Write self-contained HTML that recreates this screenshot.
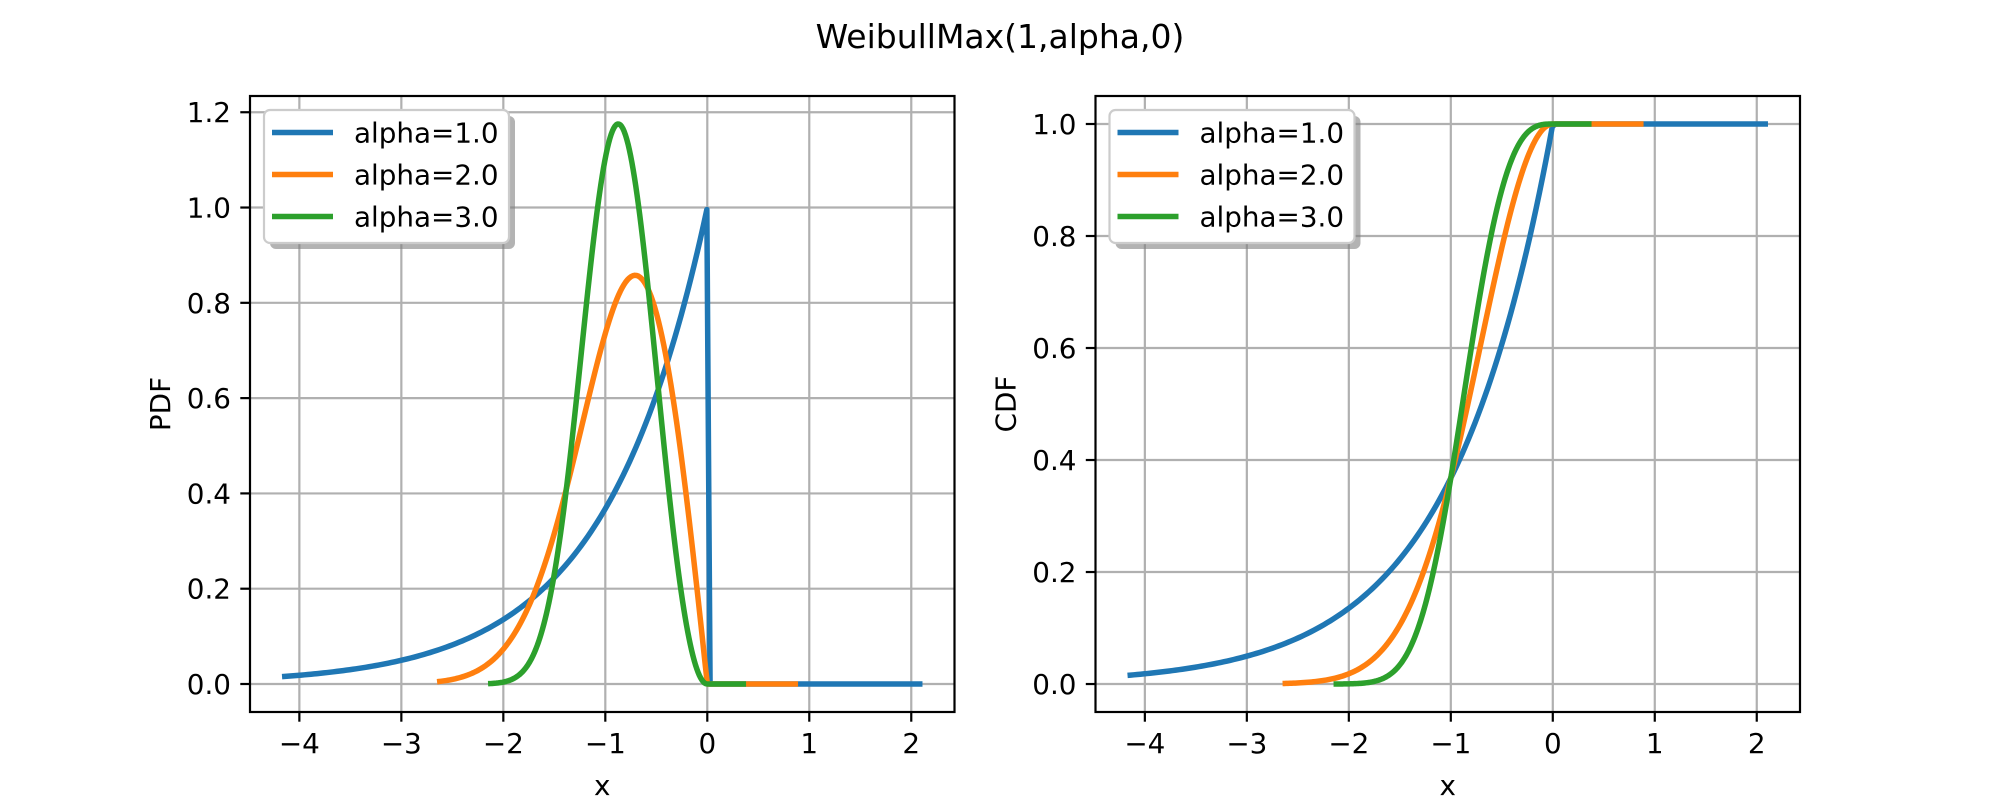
<!DOCTYPE html>
<html><head><meta charset="utf-8"><style>
html,body{margin:0;padding:0;background:#fff;}
svg text{font-family:"DejaVu Sans","Liberation Sans",sans-serif;fill:#000;}
</style></head><body>
<svg id="fig" width="2000" height="800" xmlns="http://www.w3.org/2000/svg">
<rect width="2000" height="800" fill="#fff"/>
<text x="1000" y="48" font-size="33" text-anchor="middle">WeibullMax(1,alpha,0)</text>
</svg>
<script>
const alphas = [1.0, 2.0, 3.0];
const xStarts = [-4.17, -2.65, -2.15];
const xEnds = [2.11, 0.89, 0.38];
const colors = ['#1f77b4', '#ff7f0e', '#2ca02c'];
const legendLabels = ['alpha=1.0', 'alpha=2.0', 'alpha=3.0'];
const xTicks = [-4, -3, -2, -1, 0, 1, 2];
const xTickLabels = ['\u22124', '\u22123', '\u22122', '\u22121', '0', '1', '2'];
const pdfTicks = [0, 0.2, 0.4, 0.6, 0.8, 1.0, 1.2];
const pdfTickLabels = ['0.0', '0.2', '0.4', '0.6', '0.8', '1.0', '1.2'];
const cdfTicks = [0, 0.2, 0.4, 0.6, 0.8, 1.0];
const cdfTickLabels = ['0.0', '0.2', '0.4', '0.6', '0.8', '1.0'];
const N = 200;

const svg = document.getElementById('fig');
const NS = 'http://www.w3.org/2000/svg';
function mk(tag, attrs, parent) {
  const e = document.createElementNS(NS, tag);
  for (const k in attrs) e.setAttribute(k, attrs[k]);
  (parent || svg).appendChild(e);
  return e;
}
function pdf(x, a) { if (x >= 0) return 0; const t = -x; return a * Math.pow(t, a - 1) * Math.exp(-Math.pow(t, a)); }
function cdf(x, a) { if (x >= 0) return 1; return Math.exp(-Math.pow(-x, a)); }

function panel(L, R, fn, yTicks, yTickLabels, yLabel, key) {
  const T = 96, B = 712;
  const series = alphas.map((a, i) => {
    const xs = [], ys = [];
    for (let j = 0; j < N; j++) { const x = xStarts[i] + (xEnds[i] - xStarts[i]) * j / (N - 1); xs.push(x); ys.push(fn(x, a)); }
    return { xs, ys };
  });
  let xmin = Math.min(...xStarts), xmax = Math.max(...xEnds);
  let ymin = Infinity, ymax = -Infinity;
  series.forEach(s => s.ys.forEach(v => { ymin = Math.min(ymin, v); ymax = Math.max(ymax, v); }));
  const dx = (xmax - xmin) * 0.05, dy = (ymax - ymin) * 0.05;
  xmin -= dx; xmax += dx; ymin -= dy; ymax += dy;
  const sx = x => L + (x - xmin) / (xmax - xmin) * (R - L);
  const sy = y => B - (y - ymin) / (ymax - ymin) * (B - T);
  const g = mk('g', {});
  
  
  const clip = mk('clipPath', { id: 'clip-' + key }, g);
  mk('rect', { x: L, y: T, width: R - L, height: B - T }, clip);
  xTicks.forEach((t, i) => {
    const x = sx(t);
    const gl = mk('line', { x1: x, x2: x, y1: T, y2: B, stroke: '#b0b0b0', 'stroke-width': 2.2 }, g);
    
    
    mk('line', { x1: x, x2: x, y1: B, y2: B + 9.7, stroke: '#000', 'stroke-width': 2.2 }, g);
    const tl = mk('text', { x: x, y: B + 41, 'font-size': 27.8, 'text-anchor': 'middle' }, g);
    tl.textContent = xTickLabels[i];
    
    
  });
  yTicks.forEach((t, i) => {
    const y = sy(t);
    const gl = mk('line', { x1: L, x2: R, y1: y, y2: y, stroke: '#b0b0b0', 'stroke-width': 2.2 }, g);
    
    
    mk('line', { x1: L - 9.7, x2: L, y1: y, y2: y, stroke: '#000', 'stroke-width': 2.2 }, g);
    const tl = mk('text', { x: L - 19, y: y + 10, 'font-size': 27.8, 'text-anchor': 'end' }, g);
    tl.textContent = yTickLabels[i];
    
    
  });
  series.forEach((s, i) => {
    const d = s.xs.map((x, j) => (j ? 'L' : 'M') + sx(x).toFixed(2) + ',' + sy(s.ys[j]).toFixed(2)).join('');
    const p = mk('path', { d: d, fill: 'none', stroke: colors[i], 'stroke-width': 5.5, 'stroke-linejoin': 'round', 'clip-path': 'url(#clip-' + key + ')' }, g);
    
    
  });
  const fr = mk('rect', { x: L, y: T, width: R - L, height: B - T, fill: 'none', stroke: '#000', 'stroke-width': 2.2 }, g);
  
  
  const xl = mk('text', { x: (L + R) / 2, y: 795, 'font-size': 27.8, 'text-anchor': 'middle' }, g);
  xl.textContent = 'x';
  
  
  const yl = mk('text', { x: 0, y: 0, 'font-size': 27.8, 'text-anchor': 'middle', transform: 'translate(' + (L - 80) + ',' + ((T + B) / 2) + ') rotate(-90)' }, g);
  yl.textContent = yLabel;
  
  
  // legend
  const lg = mk('g', {}, g);
  
  
  const lx = L + 14, ly = T + 14, lw = 245, lh = 133;
  mk('rect', { x: lx + 6, y: ly + 6, width: lw, height: lh, rx: 6, fill: '#808080', opacity: 0.6 }, lg);
  mk('rect', { x: lx, y: ly, width: lw, height: lh, rx: 6, fill: '#fff', stroke: '#cccccc', 'stroke-width': 2.2 }, lg);
  legendLabels.forEach((lab, i) => {
    const y = ly + 22.5 + i * 42;
    const ln = mk('line', { x1: lx + 8, x2: lx + 69, y1: y, y2: y, stroke: colors[i], 'stroke-width': 5.5 }, lg);
    
    
    const t = mk('text', { x: lx + 90, y: y + 10, 'font-size': 27.8 }, lg);
    t.textContent = lab;
    
    
  });
}
panel(250, 954.5, pdf, pdfTicks, pdfTickLabels, 'PDF', 'pdf');
panel(1095.5, 1800, cdf, cdfTicks, cdfTickLabels, 'CDF', 'cdf');
</script>
</body></html>
